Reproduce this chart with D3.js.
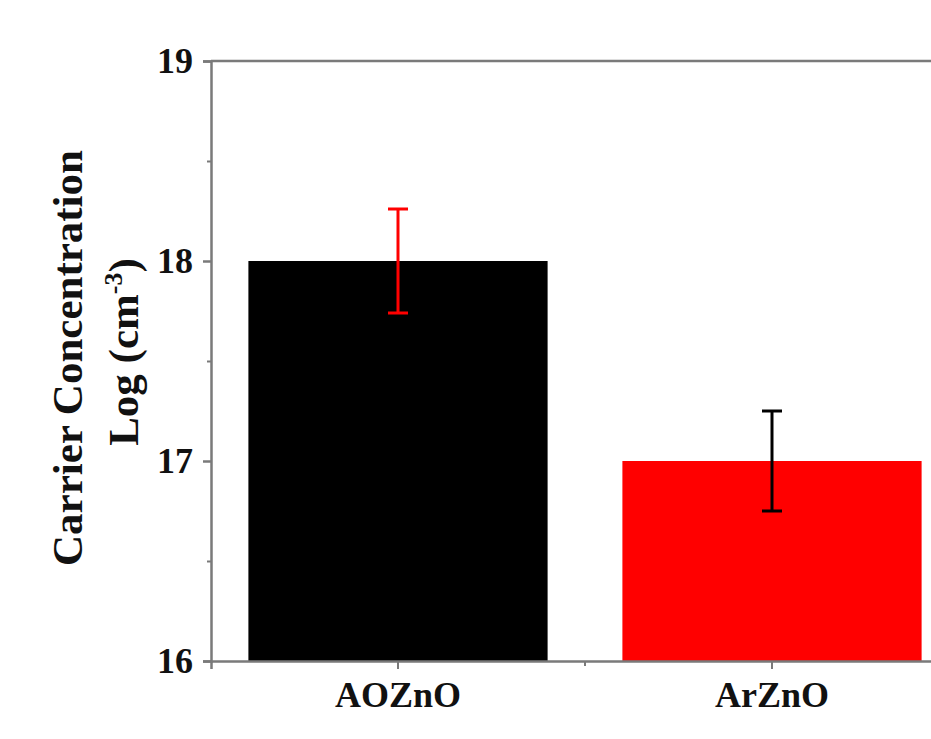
<!DOCTYPE html>
<html><head><meta charset="utf-8">
<script src="https://cdn.jsdelivr.net/npm/d3@7"></script>
<style>body{margin:0;background:#fff;} svg{display:block;}</style>
</head><body>
<svg id="c" width="931" height="739"></svg>
<script>
const categories = ["AOZnO", "ArZnO"];
const values = [18.0, 17.0];
const errors = [0.26, 0.25];
const barColors = ["#000000", "#ff0000"];
const errColors = ["#ff0000", "#000000"];
const yTicks = [16, 17, 18, 19];
const yMinorTicks = [16.5, 17.5, 18.5];

(function(){
const svg = d3.select("#c");
const mLeft = 211, mTop = 61, mBottom = 661;
const x = d3.scaleBand().domain(categories).range([mLeft, 959]).paddingInner(0.2).paddingOuter(0.1);
const y = d3.scaleLinear().domain([16, 19]).range([mBottom, mTop]);
const font = "'Liberation Serif','Times New Roman',serif";
const axisColor = "#7a7a7a";

// bars
svg.selectAll("rect.bar").data(categories).enter().append("rect")
  .attr("x", d => x(d)).attr("width", x.bandwidth())
  .attr("y", (d,i) => y(values[i])).attr("height", (d,i) => y(16) - y(values[i]))
  .attr("fill", (d,i) => barColors[i]);

// error bars
const eg = svg.selectAll("g.err").data(categories).enter().append("g")
  .attr("stroke", (d,i) => errColors[i]).attr("stroke-width", 3);
eg.append("line").attr("x1", d => x(d) + x.bandwidth()/2).attr("x2", d => x(d) + x.bandwidth()/2)
  .attr("y1", (d,i) => y(values[i] + errors[i])).attr("y2", (d,i) => y(values[i] - errors[i]));
eg.append("line").attr("x1", d => x(d) + x.bandwidth()/2 - 10).attr("x2", d => x(d) + x.bandwidth()/2 + 10)
  .attr("y1", (d,i) => y(values[i] + errors[i])).attr("y2", (d,i) => y(values[i] + errors[i]));
eg.append("line").attr("x1", d => x(d) + x.bandwidth()/2 - 10).attr("x2", d => x(d) + x.bandwidth()/2 + 10)
  .attr("y1", (d,i) => y(values[i] - errors[i])).attr("y2", (d,i) => y(values[i] - errors[i]));

// y axis
const yAxis = d3.axisLeft(y).tickValues(yTicks).tickFormat(d3.format("d")).tickSize(8).tickPadding(10);
const ya = svg.append("g").attr("transform", `translate(${mLeft},0)`).call(yAxis);
ya.select(".domain").attr("stroke", axisColor).attr("stroke-width", 2.5);
ya.selectAll(".tick line").attr("stroke", axisColor).attr("stroke-width", 2.5);
ya.selectAll(".tick text").attr("font-family", font).attr("font-weight", "bold").attr("font-size", 36).attr("fill", "#111");
const yMinor = d3.axisLeft(y).tickValues(yMinorTicks).tickFormat("").tickSize(4);
const ym = svg.append("g").attr("transform", `translate(${mLeft},0)`).call(yMinor);
ym.select(".domain").remove();
ym.selectAll(".tick line").attr("stroke", axisColor).attr("stroke-width", 2);

// x axis
const xAxis = d3.axisBottom(x).tickSize(8).tickPadding(12);
const xa = svg.append("g").attr("transform", `translate(0,${mBottom})`).call(xAxis);
xa.select(".domain").attr("stroke", axisColor).attr("stroke-width", 2.5);
xa.selectAll(".tick line").attr("stroke", axisColor).attr("stroke-width", 2);
xa.selectAll(".tick text").attr("font-family", font).attr("font-weight", "bold").attr("font-size", 36).attr("fill", "#111");
const xMinorPos = [ (x(categories[0]) + x.bandwidth() + x(categories[1])) / 2 ];
svg.selectAll("line.xminor").data(xMinorPos).enter().append("line")
  .attr("x1", d => d).attr("x2", d => d).attr("y1", mBottom).attr("y2", mBottom + 5)
  .attr("stroke", axisColor).attr("stroke-width", 2);

// top border
svg.append("line").attr("x1", mLeft).attr("x2", 931).attr("y1", mTop).attr("y2", mTop)
  .attr("stroke", axisColor).attr("stroke-width", 2.5);

// axis title
svg.append("text").attr("transform", "translate(82,358) rotate(-90)")
  .attr("text-anchor", "middle").attr("font-family", font).attr("font-weight", "bold").attr("font-size", 43).attr("fill", "#111")
  .text("Carrier Concentration");
const t2 = svg.append("text").attr("transform", "translate(138,352) rotate(-90)")
  .attr("text-anchor", "middle").attr("font-family", font).attr("font-weight", "bold").attr("font-size", 43).attr("fill", "#111");
t2.append("tspan").text("Log (cm");
t2.append("tspan").attr("font-size", 26).attr("dy", -16).text("-3");
t2.append("tspan").attr("dy", 16).text(")");
})();
</script>
</body></html>
